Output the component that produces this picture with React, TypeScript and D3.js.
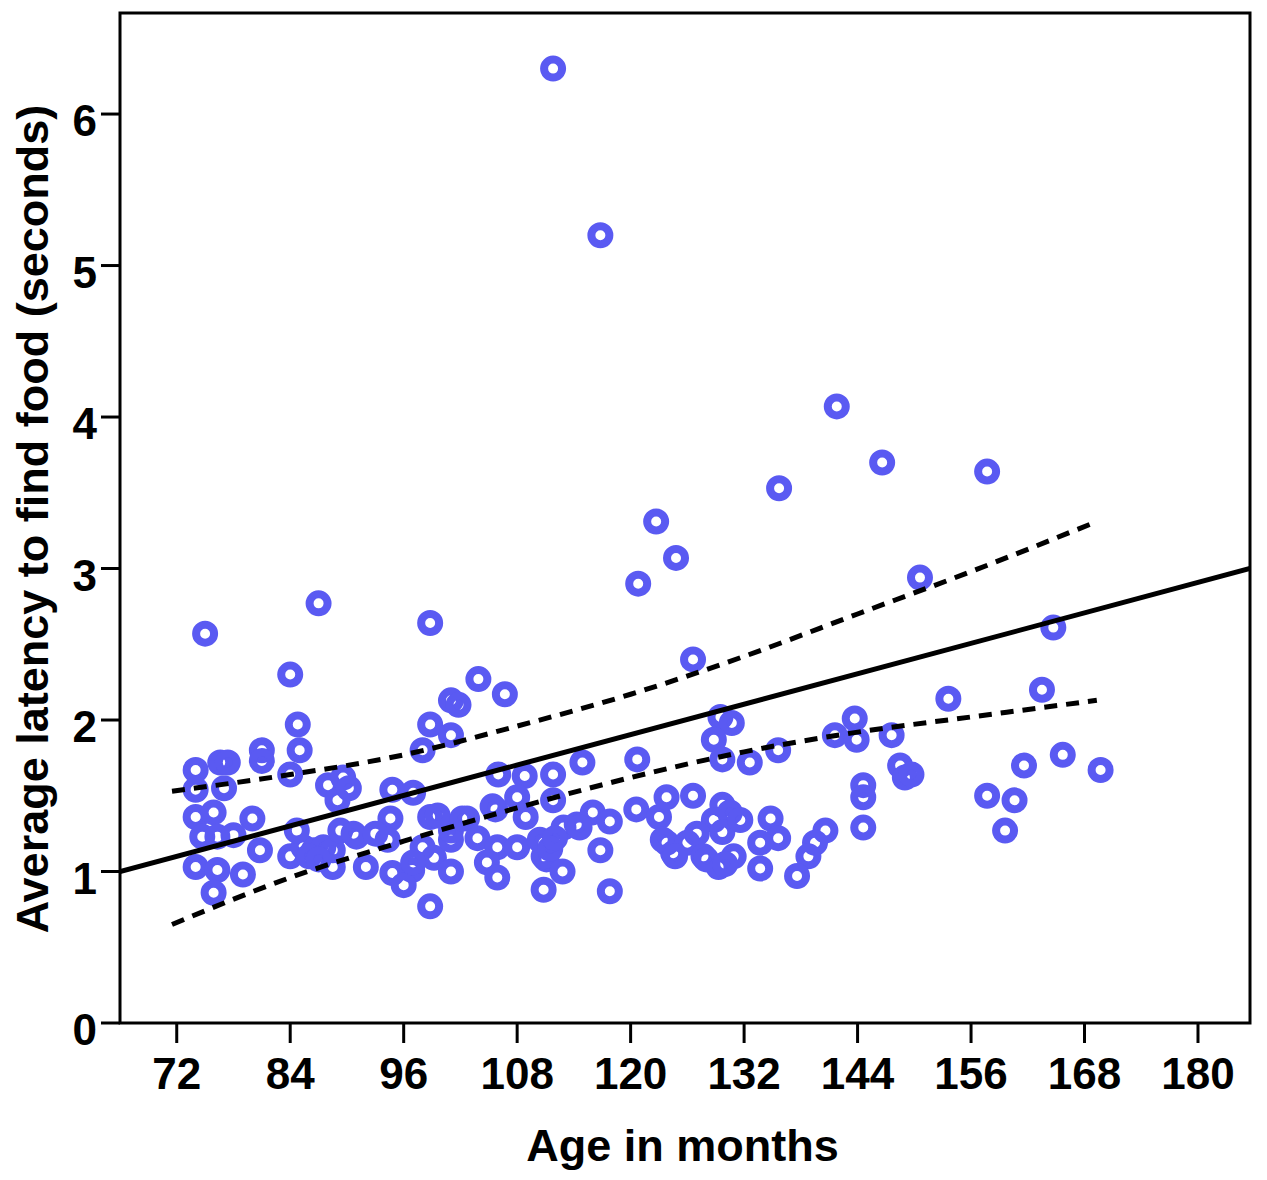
import * as d3 from 'd3'

const WIDTH = 1267
const HEIGHT = 1180
const PLOT = { left: 120, right: 1250, top: 13, bottom: 1023 }

const X_TICKS = [72, 84, 96, 108, 120, 132, 144, 156, 168, 180]
const Y_TICKS = [0, 1, 2, 3, 4, 5, 6]

// [age in months, average latency in seconds]
const points: [number, number][] = [
  [111.8, 6.3], [116.8, 5.2], [141.8, 4.07], [146.6, 3.7], [157.7, 3.64], [135.7, 3.53],
  [122.7, 3.31], [124.8, 3.07], [150.6, 2.94], [120.8, 2.9], [87, 2.77], [75, 2.57],
  [98.8, 2.64], [164.7, 2.61], [126.6, 2.4], [84, 2.3], [103.9, 2.27], [163.5, 2.2],
  [101, 2.13], [101.8, 2.1], [106.7, 2.17], [153.6, 2.14],
  [84.8, 1.97], [85, 1.8], [84, 1.64], [81, 1.8], [81, 1.73], [98.8, 1.97], [98, 1.8], [101, 1.9],
  [74, 1.67], [76.6, 1.72], [77.4, 1.72], [74, 1.54], [77, 1.55], [74, 1.36], [75.9, 1.39],
  [80, 1.35], [74.7, 1.23], [76.3, 1.23], [78, 1.24], [80.8, 1.14], [74, 1.03], [76.3, 1.01],
  [79, 0.98], [75.9, 0.86],
  [84, 1.1], [85.4, 1.16], [86.5, 1.14], [87.5, 1.16], [84.7, 1.27], [88.5, 1.14], [89.3, 1.27],
  [91, 1.23], [88.5, 1.03], [92, 1.03], [88, 1.57], [89.6, 1.62], [89, 1.47], [90.2, 1.55],
  [90.7, 1.25], [86, 1.1], [87, 1.08],
  [94.8, 1.54], [97, 1.52], [94.6, 1.35], [98.8, 1.36], [94.3, 1.21], [98, 1.16], [94.8, 0.99],
  [96.9, 1.01], [96, 0.91], [98.8, 0.77], [99.2, 1.09], [97, 1.06], [93, 1.25],
  [102.7, 1.35], [105.7, 1.41], [108.9, 1.36], [101, 1.21], [103.8, 1.22], [105.9, 1.16],
  [108, 1.16], [110.8, 1.19], [101, 1.0], [104.8, 1.06], [105.9, 0.96], [110.8, 0.88],
  [106, 1.64], [108.8, 1.63], [111.8, 1.64], [108, 1.49], [111.8, 1.47], [105.4, 1.43],
  [101, 1.27], [99.6, 1.37], [102.2, 1.35], [111.1, 1.08], [110.4, 1.21], [112.9, 1.29],
  [110.8, 1.1], [111.5, 1.15], [112, 1.22],
  [114.9, 1.72], [120.7, 1.74], [114.3, 1.31], [116, 1.39], [117.8, 1.33], [120.6, 1.41],
  [116.8, 1.14], [112.8, 1.0], [117.8, 0.87], [114.6, 1.29], [123, 1.36], [123.8, 1.49],
  [123.8, 1.19], [124.5, 1.12], [123.4, 1.21],
  [126.6, 1.5], [129.7, 1.44], [130.5, 1.39], [128.8, 1.34], [129.7, 1.26], [127, 1.25],
  [126, 1.19], [124.7, 1.1], [127.7, 1.1], [129.3, 1.03], [130.9, 1.1], [129.5, 2.02],
  [130.7, 1.98], [128.8, 1.87], [129.7, 1.74], [132.6, 1.72], [135.6, 1.8], [134.8, 1.35],
  [135.6, 1.22], [133.7, 1.19], [133.7, 1.02], [131.6, 1.34], [128, 1.08], [130, 1.05],
  [141.6, 1.9], [143.7, 2.01], [143.9, 1.87], [147.6, 1.9], [148.5, 1.7], [149, 1.62],
  [149.7, 1.64], [144.6, 1.57], [144.6, 1.49], [144.6, 1.29], [140.6, 1.27], [139.5, 1.19],
  [138.8, 1.1], [137.6, 0.97], [157.7, 1.5], [160.6, 1.47], [159.6, 1.27], [161.6, 1.7],
  [165.7, 1.77], [169.7, 1.67],
]

// fitted line
const FIT_START: [number, number] = [66, 1.0]
const FIT_END: [number, number] = [185.5, 3.0]

// confidence band samples: [age, upper, lower]
const band: [number, number, number][] = [
  [71.5, 1.53, 0.65], [84, 1.64, 0.96], [96, 1.77, 1.2], [108, 1.96, 1.42], [120, 2.17, 1.62],
  [132, 2.42, 1.79], [144, 2.7, 1.92], [156, 2.98, 2.02], [169.3, 3.31, 2.13],
]

const FONT = 'Arial, "Liberation Sans", Helvetica, sans-serif'
const DOT = '#5a5af2'

export default function App() {
  const x = d3.scaleLinear().domain([66, 185.5]).range([PLOT.left, PLOT.right])
  const y = d3.scaleLinear().domain([0, 6.667]).range([PLOT.bottom, PLOT.top])

  const bandLine = (idx: 1 | 2) =>
    d3.line<[number, number, number]>()
      .x(d => x(d[0]))
      .y(d => y(d[idx]))
      .curve(d3.curveMonotoneX)(band) || ''

  const fitPath = d3.line<[number, number]>()
    .x(d => x(d[0]))
    .y(d => y(d[1]))([FIT_START, FIT_END]) || ''

  return (
    <svg
      width={WIDTH}
      height={HEIGHT}
      style={{ position: 'absolute', left: 0, top: 0, background: '#fff', fontFamily: FONT }}
    >
      <defs>
        <clipPath id="plot-clip">
          <rect x={PLOT.left} y={PLOT.top} width={PLOT.right - PLOT.left} height={PLOT.bottom - PLOT.top} />
        </clipPath>
      </defs>

      {/* points */}
      <g clipPath="url(#plot-clip)">
        {points.map((p, i) => (
          <circle
            key={i}
            cx={x(p[0])}
            cy={y(p[1])}
            r={9}
            fill="none"
            stroke={DOT}
            strokeWidth={8}
          />
        ))}

        {/* fit and confidence band */}
        <path d={fitPath} fill="none" stroke="#000" strokeWidth={5} />
        <path d={bandLine(1)} fill="none" stroke="#000" strokeWidth={5} strokeDasharray="13 9" />
        <path d={bandLine(2)} fill="none" stroke="#000" strokeWidth={5} strokeDasharray="13 9" />
      </g>

      {/* frame */}
      <rect
        x={PLOT.left}
        y={PLOT.top}
        width={PLOT.right - PLOT.left}
        height={PLOT.bottom - PLOT.top}
        fill="none"
        stroke="#000"
        strokeWidth={3}
      />

      {/* y ticks */}
      {Y_TICKS.map(t => (
        <g key={`y-${t}`}>
          <line x1={PLOT.left - 19} x2={PLOT.left} y1={y(t)} y2={y(t)} stroke="#000" strokeWidth={3} />
          <text
            x={PLOT.left - 23}
            y={y(t) + 22}
            textAnchor="end"
            fontSize={44}
            fontWeight="bold"
            fill="#000"
          >
            {t}
          </text>
        </g>
      ))}

      {/* x ticks */}
      {X_TICKS.map(t => (
        <g key={`x-${t}`}>
          <line x1={x(t)} x2={x(t)} y1={PLOT.bottom} y2={PLOT.bottom + 20} stroke="#000" strokeWidth={3} />
          <text
            x={x(t)}
            y={1089}
            textAnchor="middle"
            fontSize={44}
            fontWeight="bold"
            fill="#000"
          >
            {t}
          </text>
        </g>
      ))}

      {/* axis titles */}
      <text x={682.5} y={1161} textAnchor="middle" fontSize={45} fontWeight="bold" fill="#000">
        Age in months
      </text>
      <text
        transform="translate(48, 519) rotate(-90)"
        textAnchor="middle"
        fontSize={45}
        fontWeight="bold"
        fill="#000"
      >
        Average latency to find food (seconds)
      </text>
    </svg>
  )
}
